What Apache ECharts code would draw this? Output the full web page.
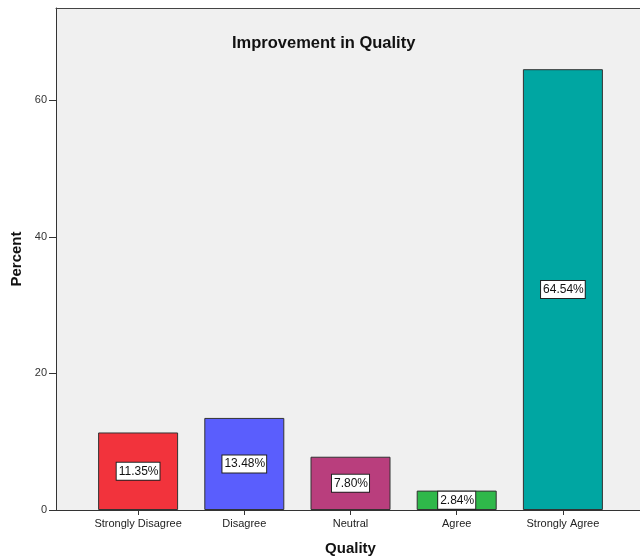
<!DOCTYPE html>
<html>
<head>
<meta charset="utf-8">
<script src="https://cdn.jsdelivr.net/npm/echarts@6/dist/echarts.min.js"></script>
<style>
  html, body { margin: 0; padding: 0; background: #ffffff; }
  #chart { width: 640px; height: 558px; }
</style>
</head>
<body>
<div id="chart"></div>
<script>
// Response categories and their share of respondents (%)
const categories = ['Strongly Disagree', 'Disagree', 'Neutral', 'Agree', 'Strongly Agree'];
const percents = [11.35, 13.48, 7.80, 2.84, 64.54];
const barColors = ['#f2333c', '#5a5efd', '#b93e7d', '#2fb84a', '#00a6a2'];
const yTicks = [0, 20, 40, 60];

const FONT = '"Liberation Sans", Arial, sans-serif';
const Y_MAX = 73.5;

const chart = echarts.init(document.getElementById('chart'), null, { renderer: 'canvas' });

chart.setOption({
  animation: false,
  backgroundColor: '#ffffff',
  title: {
    text: 'Improvement in Quality',
    left: 227,
    top: 30,
    textStyle: { fontFamily: FONT, fontSize: 16.5, fontWeight: 'bold', color: '#111' }
  },
  grid: [
    // frame with grey background
    { left: 56, right: 0, top: 8, bottom: 48, show: true, backgroundColor: '#f0f0f0',
      borderWidth: 0, containLabel: false, outerBoundsMode: 'none' },
    // bar area
    { left: 85, width: 531, top: 8, bottom: 48, containLabel: false, outerBoundsMode: 'none' }
  ],
  xAxis: [
    {
      gridIndex: 0, type: 'value', min: 0, max: 1,
      axisLine: { show: true, onZero: false, lineStyle: { color: '#333', width: 1 } },
      axisTick: { show: false }, axisLabel: { show: false }, splitLine: { show: false }
    },
    {
      gridIndex: 0, type: 'value', min: 0, max: 1, position: 'top',
      axisLine: { show: true, onZero: false, lineStyle: { color: '#444', width: 1 } },
      axisTick: { show: false }, axisLabel: { show: false }, splitLine: { show: false }
    },
    {
      gridIndex: 1, type: 'category', data: categories,
      name: 'Quality', nameLocation: 'middle', nameGap: 31,
      nameTextStyle: { fontFamily: FONT, fontSize: 15, fontWeight: 'bold', color: '#111' },
      axisLine: { show: false },
      axisTick: { show: true, alignWithLabel: true, length: 5, lineStyle: { color: '#333' } },
      axisLabel: { fontFamily: FONT, fontSize: 11, color: '#222', margin: 8, interval: 0 },
      splitLine: { show: false }
    }
  ],
  yAxis: [
    {
      gridIndex: 0, type: 'value', min: 0, max: Y_MAX, interval: 20,
      name: 'Percent', nameLocation: 'middle', nameGap: 32,
      nameTextStyle: { fontFamily: FONT, fontSize: 15, fontWeight: 'bold', color: '#111' },
      axisLine: { show: true, lineStyle: { color: '#333', width: 1 } },
      axisTick: { show: true, length: 7, lineStyle: { color: '#333' } },
      axisLabel: {
        fontFamily: FONT, fontSize: 11, color: '#333', margin: 9, showMaxLabel: false,
        formatter: v => (yTicks.includes(v) ? String(v) : '')
      },
      splitLine: { show: false }
    },
    {
      gridIndex: 1, type: 'value', min: 0, max: Y_MAX,
      axisLine: { show: false }, axisTick: { show: false }, axisLabel: { show: false },
      splitLine: { show: false }
    }
  ],
  series: [
    {
      type: 'bar',
      xAxisIndex: 2,
      yAxisIndex: 1,
      barWidth: 80,
      data: percents.map((v, i) => ({
        value: v,
        itemStyle: { color: barColors[i] }
      })),
      itemStyle: { borderColor: '#333', borderWidth: 1 },
      label: {
        show: true,
        position: 'inside',
        formatter: p => p.value.toFixed(2) + '%',
        fontFamily: FONT,
        fontSize: 12,
        color: '#111',
        backgroundColor: '#ffffff',
        borderColor: '#222',
        borderWidth: 1,
        padding: [3, 1, 2, 2]
      }
    }
  ]
});
</script>
</body>
</html>
